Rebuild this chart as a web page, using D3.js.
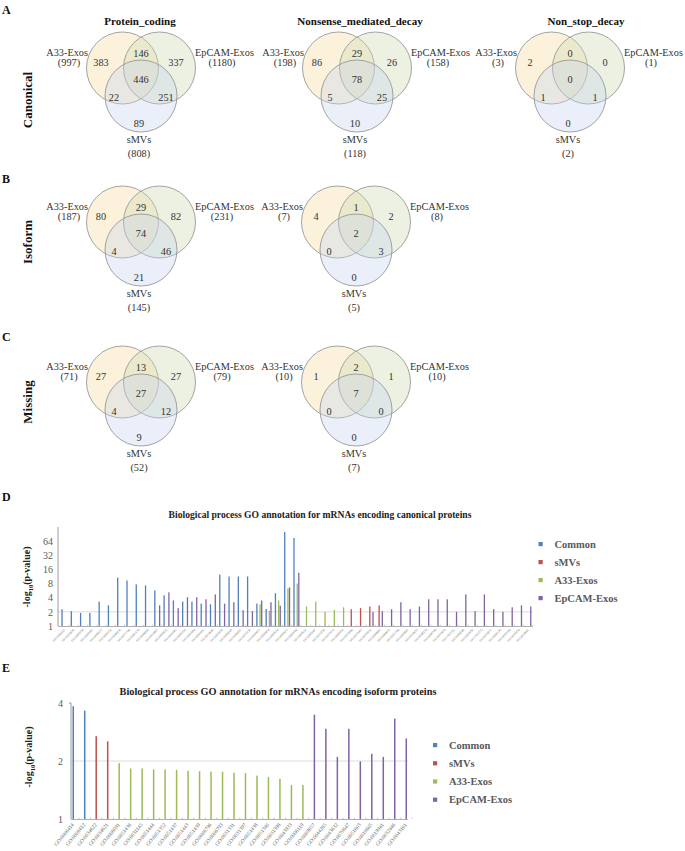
<!DOCTYPE html>
<html><head><meta charset="utf-8">
<script src="https://cdn.jsdelivr.net/npm/d3@7"></script>
<style>
body{margin:0;background:#fff;}
svg{display:block;font-family:"Liberation Serif","Times New Roman",serif;}
</style></head><body>
<svg id="chart" width="685" height="851"></svg>
<script>
const _ = null;
// ---------- Venn data ----------
const setNames = ["A33-Exos", "EpCAM-Exos", "sMVs"];
const vennTitles = ["Protein_coding", "Nonsense_mediated_decay", "Non_stop_decay"];
const rowLabels = ["Canonical", "Isoform", "Missing"];
const panelLetters = ["A", "B", "C", "D", "E"];
// regions: A only, A∩E, E only, A∩E∩S, A∩S, E∩S, S only
const canonicalCoding = [383, 146, 337, 446, 22, 251, 89];
const canonicalCodingTotals = [997, 1180, 808];
const canonicalNMD = [86, 29, 26, 78, 5, 25, 10];
const canonicalNMDTotals = [198, 158, 118];
const canonicalNSD = [2, 0, 0, 0, 1, 1, 0];
const canonicalNSDTotals = [3, 1, 2];
const isoformCoding = [80, 29, 82, 74, 4, 46, 21];
const isoformCodingTotals = [187, 231, 145];
const isoformNMD = [4, 1, 2, 2, 0, 3, 0];
const isoformNMDTotals = [7, 8, 5];
const missingCoding = [27, 13, 27, 27, 4, 12, 9];
const missingCodingTotals = [71, 79, 52];
const missingNMD = [1, 2, 1, 7, 0, 0, 0];
const missingNMDTotals = [10, 10, 7];

// ---------- GO bar chart data ----------
const seriesNames = ["Common", "sMVs", "A33-Exos", "EpCAM-Exos"];
const dTitle = "Biological process GO annotation for mRNAs encoding canonical proteins";
const eTitle = "Biological process GO annotation for mRNAs encoding isoform proteins";
const dTicks = [1, 2, 4, 8, 16, 32, 64];
const eTicks = [1, 2, 4];
const dCategories = ["GO:0042221","GO:0050896","GO:0006950","GO:0009987","GO:0044237","GO:0008152","GO:0044238","GO:0071704","GO:0043170","GO:0044260","GO:0010467","GO:0006412","GO:0043043","GO:0006518","GO:0043604","GO:0043603","GO:0034645","GO:0009059","GO:0044249","GO:0044267","GO:0019538","GO:0006413","GO:0006414","GO:0006614","GO:0006613","GO:0000184","GO:0006612","GO:0045047","GO:0072599","GO:0070972","GO:0000956","GO:0019080","GO:0019083","GO:0016032","GO:0044403","GO:0044419","GO:0051704","GO:0006401","GO:0034655","GO:0044270","GO:0046700","GO:0019439","GO:1901361","GO:0044248","GO:0009056","GO:1901575","GO:0016071","GO:0006396","GO:0090304","GO:0016070","GO:0034641"];
const dCommon = [2.28,2.07,1.9,1.9,3.3,2.75,10.7,9.3,7.7,7.3,5.7,4.5,3.5,3.3,3.3,3.0,2.9,12.4,11.3,11.3,11.3,3.0,2.3,5.0,100,75,_,_,_,_,_,_,_,_,_,_,_,_,_,_,_,_,_,_,_,_,_,_,_,_,_];
const dSMVs = [_,_,_,_,_,_,_,_,_,_,_,_,_,_,_,_,_,_,_,_,_,_,_,_,_,_,_,_,_,_,_,2.28,2.4,2.6,2.75,_,_,_,_,_,_,_,_,_,_,_,_,_,_,_,_];
const dA33 = [_,_,_,_,_,_,_,_,_,_,_,_,_,_,_,_,_,_,_,_,_,2.9,2.1,3.5,6.3,8.0,2.6,3.3,2.0,2.2,2.5,_,_,_,_,_,_,_,_,_,_,_,_,_,_,_,_,_,_,_,_];
const dEpCAM = [_,_,_,_,_,_,_,_,_,_,2.75,5.2,2.4,4.1,4.1,3.7,4.7,3.0,3.2,2.17,2.07,3.5,3.2,2.7,6.6,13.6,_,_,_,_,_,_,_,2.0,2.07,2.28,3.2,2.28,2.6,3.7,3.7,3.7,2.0,4.7,2.07,4.7,2.28,2.0,2.5,2.75,2.6];

const eCategories = ["GO:0006414","GO:0006412","GO:0034622","GO:0034621","GO:0006091","GO:0051436","GO:0031145","GO:0051444","GO:0051352","GO:0051437","GO:0051443","GO:0051439","GO:0006796","GO:0006793","GO:0031331","GO:0031397","GO:0051438","GO:0051340","GO:0031398","GO:0043933","GO:0006119","GO:0009057","GO:0044265","GO:0043632","GO:0070647","GO:0051603","GO:0010605","GO:0019941","GO:0032446","GO:0043161"];
const eCommon = [3.85, 3.65];
const eSMVs = [2.69, 2.53];
const eA33 = [1.95,1.83,1.83,1.81,1.81,1.80,1.78,1.77,1.76,1.76,1.74,1.73,1.68,1.65,1.62,1.50,1.50];
const eEpCAM = [3.48, 2.94, 2.1, 2.94, 1.99, 2.18, 2.1, 3.32, 2.62];

// ---------- styling ----------
const seriesColors = ["#4f81bd", "#c0504d", "#9bbb59", "#8064a2"];
const color = d3.scaleOrdinal().domain(seriesNames).range(seriesColors);
const svg = d3.select("#chart");

// panel letters
const letterPos = [[2,14],[2,183],[2,341],[2,501],[2,672]];
svg.selectAll("text.letter").data(panelLetters).join("text").attr("class","letter")
  .attr("x",(d,i)=>letterPos[i][0]).attr("y",(d,i)=>letterPos[i][1])
  .attr("font-weight","bold").attr("font-size",12).attr("fill","#111").text(d=>d);

// row labels
const rowY = [100, 242, 402];
svg.selectAll("text.row").data(rowLabels).join("text").attr("class","row")
  .attr("transform",(d,i)=>`translate(32,${rowY[i]}) rotate(-90)`)
  .attr("text-anchor","middle").attr("font-weight","bold").attr("font-size",13).attr("fill","#111").text(d=>d);

// venn titles
const titleX = [140, 360, 586];
svg.selectAll("text.vtitle").data(vennTitles).join("text").attr("class","vtitle")
  .attr("x",(d,i)=>titleX[i]).attr("y",25).attr("text-anchor","middle")
  .attr("font-weight","bold").attr("font-size",11).attr("fill","#111").text(d=>d);

function drawVenn(cx, cy, regions, totals) {
  const g = svg.append("g").attr("transform", `translate(${cx},${cy})`);
  const r = 36, dx = 18.5, dy = 28;
  const circles = [
    {x: -dx, y: 0, fill: "#f6dc9e"},
    {x: dx, y: 0, fill: "#cdd9b0"},
    {x: 0, y: dy, fill: "#c4d3ee"}];
  g.selectAll("circle").data(circles).join("circle")
    .attr("cx", d => d.x).attr("cy", d => d.y).attr("r", r)
    .attr("fill", d => d.fill).attr("fill-opacity", 0.36)
    .attr("stroke", "#999").attr("stroke-width", 0.9);
  const offs = [[-40,-6],[0,-15],[35,-6],[0,11],[-27,29],[25,29],[-2,55]];
  g.selectAll("text.num").data(regions).join("text").attr("class","num")
    .attr("x",(d,i)=>offs[i][0]).attr("y",(d,i)=>offs[i][1])
    .attr("text-anchor","middle").attr("dominant-baseline","central")
    .attr("font-size",10.3).attr("fill","#333").text(d=>d);
  const lab = [
    {t: setNames[0], x: -53, y: -16, a: "end"},
    {t: "(" + totals[0] + ")", x: -72, y: -6, a: "middle"},
    {t: setNames[1], x: 54, y: -16, a: "start"},
    {t: "(" + totals[1] + ")", x: 81, y: -6, a: "middle"},
    {t: setNames[2], x: -2, y: 71, a: "middle"},
    {t: "(" + totals[2] + ")", x: -2, y: 85, a: "middle"}];
  g.selectAll("text.lab").data(lab).join("text").attr("class","lab")
    .attr("x",d=>d.x).attr("y",d=>d.y).attr("text-anchor",d=>d.a)
    .attr("dominant-baseline","central").attr("font-size",10.3).attr("fill","#333").text(d=>d.t);
}
drawVenn(141, 68, canonicalCoding, canonicalCodingTotals);
drawVenn(357, 68, canonicalNMD, canonicalNMDTotals);
drawVenn(570, 68, canonicalNSD, canonicalNSDTotals);
drawVenn(141, 222, isoformCoding, isoformCodingTotals);
drawVenn(356, 222, isoformNMD, isoformNMDTotals);
drawVenn(141, 382, missingCoding, missingCodingTotals);
drawVenn(356, 382, missingNMD, missingNMDTotals);

function yLabel(x, y) {
  const t = svg.append("text").attr("transform", `translate(${x},${y}) rotate(-90)`)
    .attr("text-anchor","middle").attr("font-weight","bold").attr("font-size",10).attr("fill","#222");
  t.append("tspan").text("-log");
  t.append("tspan").attr("font-size",6.5).attr("dy",2.5).text("10");
  t.append("tspan").attr("dy",-2.5).text("(p-value)");
}
function legend(x, y0, step) {
  const g = svg.append("g");
  const items = g.selectAll("g").data(seriesNames).join("g")
    .attr("transform",(d,i)=>`translate(${x},${y0 + i*step})`);
  items.append("rect").attr("x",-2).attr("y",-2).attr("width",4.2).attr("height",4.2).attr("fill",d=>color(d));
  items.append("text").attr("x",14).attr("dominant-baseline","central")
    .attr("font-weight","bold").attr("font-size",10.5).attr("fill","#595959").text(d=>d);
}

// ---------- Panel D ----------
{
  const dSeries = [dCommon, dSMVs, dA33, dEpCAM];
  const bars = [];
  dCategories.forEach((c, i) => dSeries.forEach((arr, s) => {
    if (arr[i] != null) bars.push({cat: c, s: seriesNames[s], v: arr[i]});
  }));
  const x = d3.scaleBand().domain(dCategories).range([59.8, 533]);
  const xs = d3.scaleBand().domain(seriesNames).range([-3.2, 3.2]);
  const y = d3.scaleLog().base(2).domain([1, 128]).range([626, 527]);
  const g = svg.append("g");
  g.append("text").attr("x",320).attr("y",518).attr("text-anchor","middle")
    .attr("font-weight","bold").attr("font-size",9.6).attr("fill","#222").text(dTitle);
  g.append("line").attr("x1",58).attr("x2",533).attr("y1",y(2)).attr("y2",y(2))
    .attr("stroke","#d4d4d4").attr("stroke-width",0.8);
  const ax = g.append("g").attr("transform","translate(58,0)")
    .call(d3.axisLeft(y).tickValues(dTicks).tickFormat(d3.format("d")).tickSizeInner(0).tickSizeOuter(0).tickPadding(5));
  ax.select(".domain").attr("stroke","#9a9a9a");
  ax.selectAll("text").attr("font-family","'Liberation Serif',serif").attr("font-size",10).attr("fill","#595959");
  ax.select(".domain").attr("d","M0,527V626");
  g.append("line").attr("x1",58).attr("x2",533).attr("y1",626.5).attr("y2",626.5).attr("stroke","#9a9a9a").attr("stroke-width",0.8);
  g.selectAll("line.tk").data(dCategories).join("line").attr("class","tk")
    .attr("x1",d=>x(d)+x.bandwidth()).attr("x2",d=>x(d)+x.bandwidth())
    .attr("y1",626).attr("y2",624.5).attr("stroke","#bbb").attr("stroke-width",0.6);
  g.selectAll("rect.bar").data(bars).join("rect").attr("class","bar")
    .attr("x",d=>x(d.cat) + x.bandwidth()/2 + xs(d.s) + xs.bandwidth()/2 - 0.65)
    .attr("width",1.3).attr("y",d=>y(d.v)).attr("height",d=>y(1)-y(d.v)).attr("fill",d=>color(d.s));
  g.selectAll("text.xl").data(dCategories).join("text").attr("class","xl")
    .attr("transform",d=>`translate(${x(d)+x.bandwidth()/2+1},630) rotate(-45)`)
    .attr("text-anchor","end").attr("font-size",3.2).attr("fill","#777").text(d=>d);
  yLabel(30, 577);
  legend(540.5, 544, 18);
}

// ---------- Panel E ----------
{
  const groups = [eCommon, eSMVs, eA33, eEpCAM];
  const bars = [];
  let k = 0;
  groups.forEach((arr, s) => arr.forEach(v => { bars.push({cat: eCategories[k++], s: seriesNames[s], v: v}); }));
  const x = d3.scaleBand().domain(eCategories).range([67.5, 412]);
  const y = d3.scaleLog().base(2).domain([1, 4]).range([819, 703]);
  const g = svg.append("g");
  g.append("text").attr("x",278).attr("y",695).attr("text-anchor","middle")
    .attr("font-weight","bold").attr("font-size",10.3).attr("fill","#222").text(eTitle);
  g.append("line").attr("x1",71).attr("x2",408).attr("y1",y(2)).attr("y2",y(2))
    .attr("stroke","#d4d4d4").attr("stroke-width",0.8);
  const ax = g.append("g").attr("transform","translate(71,0)")
    .call(d3.axisLeft(y).tickValues(eTicks).tickFormat(d3.format("d")).tickSizeInner(0).tickSizeOuter(0).tickPadding(8));
  ax.select(".domain").attr("stroke","#9a9a9a").attr("d","M-2,703H0V819");
  ax.selectAll("text").attr("font-family","'Liberation Serif',serif").attr("font-size",10).attr("fill","#595959");
  g.append("line").attr("x1",71).attr("x2",408).attr("y1",819.5).attr("y2",819.5).attr("stroke","#9a9a9a").attr("stroke-width",0.8);
  g.selectAll("line.tk").data(eCategories).join("line").attr("class","tk")
    .attr("x1",d=>x(d)+x.bandwidth()).attr("x2",d=>x(d)+x.bandwidth())
    .attr("y1",819).attr("y2",817.5).attr("stroke","#bbb").attr("stroke-width",0.8);
  g.selectAll("rect.bar").data(bars).join("rect").attr("class","bar")
    .attr("x",d=>x(d.cat) + x.bandwidth()/2 - 0.75)
    .attr("width",1.5).attr("y",d=>y(d.v)).attr("height",d=>y(1)-y(d.v)).attr("fill",d=>color(d.s));
  g.selectAll("text.xl").data(eCategories).join("text").attr("class","xl")
    .attr("transform",d=>`translate(${x(d)+x.bandwidth()/2+1},825) rotate(-50)`)
    .attr("text-anchor","end").attr("font-size",5.3).attr("fill","#666").text(d=>d);
  yLabel(32, 757);
  legend(435, 745, 18.2);
}
</script>
</body></html>
